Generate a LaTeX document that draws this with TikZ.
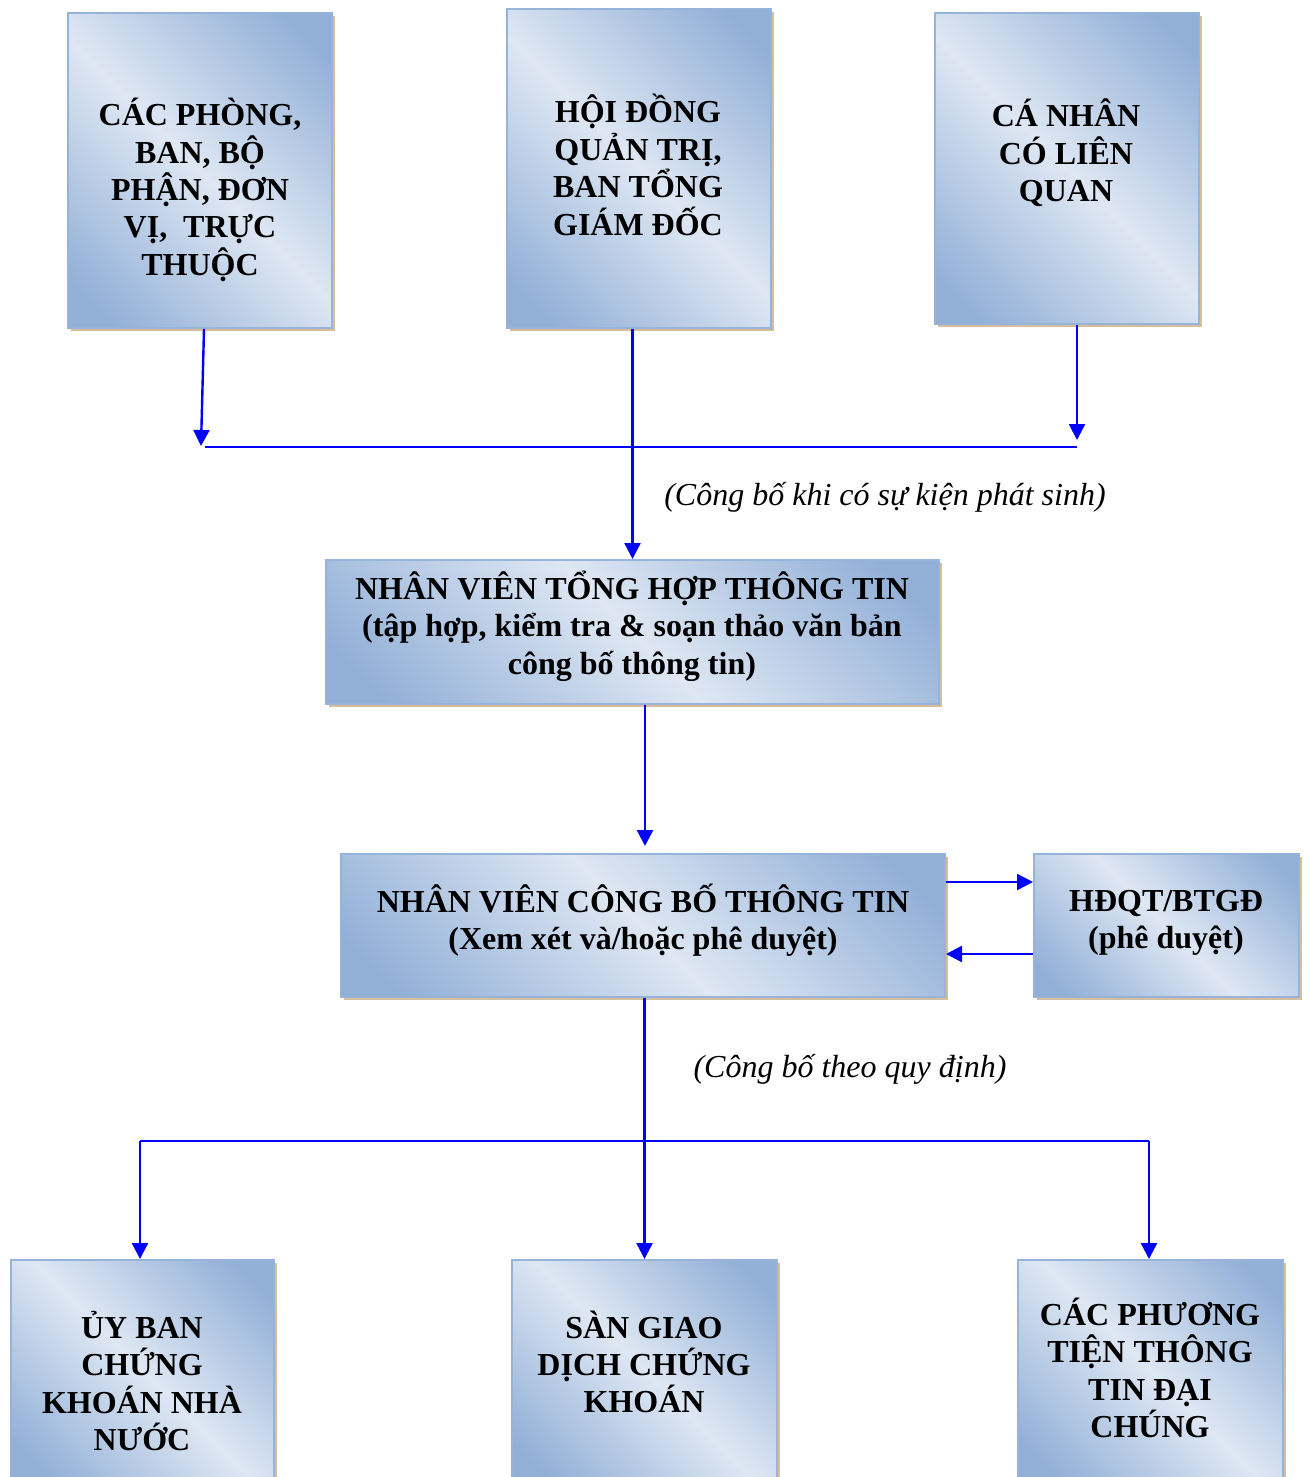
\documentclass[tikz,border=0pt]{standalone}
\usepackage{fontspec}
\setmainfont{Liberation Serif}
\usetikzlibrary{arrows.meta,shadows,positioning}

\definecolor{bdark}{RGB}{145,175,215}
\definecolor{blight}{RGB}{222,231,243}
\definecolor{bline}{RGB}{150,180,218}
\definecolor{tanc}{RGB}{214,190,156}
\pgfdeclarehorizontalshading{boxshade}{100bp}{color(0bp)=(bdark); color(20bp)=(bdark); color(50bp)=(blight); color(80bp)=(bdark); color(100bp)=(bdark)}

\tikzset{
  box/.style={draw=bline, line width=1pt, shading=boxshade, shading angle=45,
    general shadow={fill=tanc, shadow xshift=1.5pt, shadow yshift=-1.5pt}},
  txt/.style={font=\bfseries\fontsize{16}{18.7}\selectfont, align=center},
  note/.style={font=\itshape\fontsize{16}{18}\selectfont},
  wire/.style={draw=blue, line width=1.2pt},
  link/.style={wire, -{Triangle[width=8pt,length=8pt]}},
}

\begin{document}
\begin{tikzpicture}[x=0.5pt,y=-0.5pt]
\useasboundingbox (0,0) rectangle (1309,1477);

\node[box, minimum width=132pt, minimum height=157.5pt] (a) at (200,170.5) {};
\node[box, minimum width=132pt, minimum height=159.5pt] (b) at (639,168.5) {};
\node[box, minimum width=132pt, minimum height=155.5pt] (c) at (1067,168.5) {};
\node[box, minimum width=306.5pt, minimum height=72pt] (d) at (632.5,632) {};
\node[box, minimum width=302pt, minimum height=71.5pt] (e) at (643,925.5) {};
\node[box, minimum width=132.5pt, minimum height=71.5pt] (f) at (1166.5,925.5) {};
\node[box, minimum width=131.5pt, minimum height=110pt] (g1) at (142.5,1370) {};
\node[box, minimum width=132.5pt, minimum height=110pt] (g2) at (644.5,1370) {};
\node[box, minimum width=132.5pt, minimum height=110pt] (g3) at (1150.5,1370) {};

\node[txt] (at) at (200,190) {CÁC PHÒNG,\\BAN, BỘ\\PHẬN, ĐƠN\\VỊ,~ TRỰC\\THUỘC};
\node[txt] (bt) at (638,165) {HỘI ĐỒNG\\QUẢN TRỊ,\\BAN TỔNG\\GIÁM ĐỐC};
\node[txt] (ct) at (1066,153) {CÁ NHÂN\\CÓ LIÊN\\QUAN};
\node[txt] (dt) at (632,626) {NHÂN VIÊN TỔNG HỢP THÔNG TIN\\(tập hợp, kiểm tra \& soạn thảo văn bản\\công bố thông tin)};
\node[txt] (et) at (643,920) {NHÂN VIÊN CÔNG BỐ THÔNG TIN\\(Xem xét và/hoặc phê duyệt)};
\node[txt] (ft) at (1166,923) {HĐQT/BTGĐ\\(phê duyệt)};
\node[txt] (g1t) at (142,1381) {ỦY BAN\\CHỨNG\\KHOÁN NHÀ\\NƯỚC};
\node[txt] (g2t) at (644,1362) {SÀN GIAO\\DỊCH CHỨNG\\KHOÁN};
\node[txt] (g3t) at (1150,1368) {CÁC PHƯƠNG\\TIỆN THÔNG\\TIN ĐẠI\\CHÚNG};

\node[note] (n1) at (885,497) {(Công bố khi có sự kiện phát sinh)};
\node[note] (n2) at (850,1069) {(Công bố theo quy định)};

% top collector
\coordinate (ja) at (201,446);
\coordinate (jl) at (205,447);
\coordinate (jr) at (1077,447);
\coordinate (jc) at (1077,440);
\draw[link] ([xshift=2pt]a.south) -- (ja);
\draw[wire] (jl) -- (jr);
\draw[link] (c.south -| jc) -- (jc);
\draw[link] (d.north |- b.south) -- (d.north);

% middle
\coordinate (jd) at (645,846);
\coordinate (y1) at (0,882);
\coordinate (y2) at (0,954);
\draw[link] (jd |- d.south) -- (jd);
\draw[link] (e.east |- y1) -- (f.west |- y1);
\draw[link] (f.west |- y2) -- (e.east |- y2);

% bottom bus
\coordinate (bl) at (140,1141);
\coordinate (br) at (1149,1141);
\draw[wire] (bl) -- (br);
\draw[link] (g2.north |- e.south) -- (g2.north);
\draw[link] (bl) -- (bl |- g1.north);
\draw[link] (br) -- (br |- g3.north);
\end{tikzpicture}
\end{document}
